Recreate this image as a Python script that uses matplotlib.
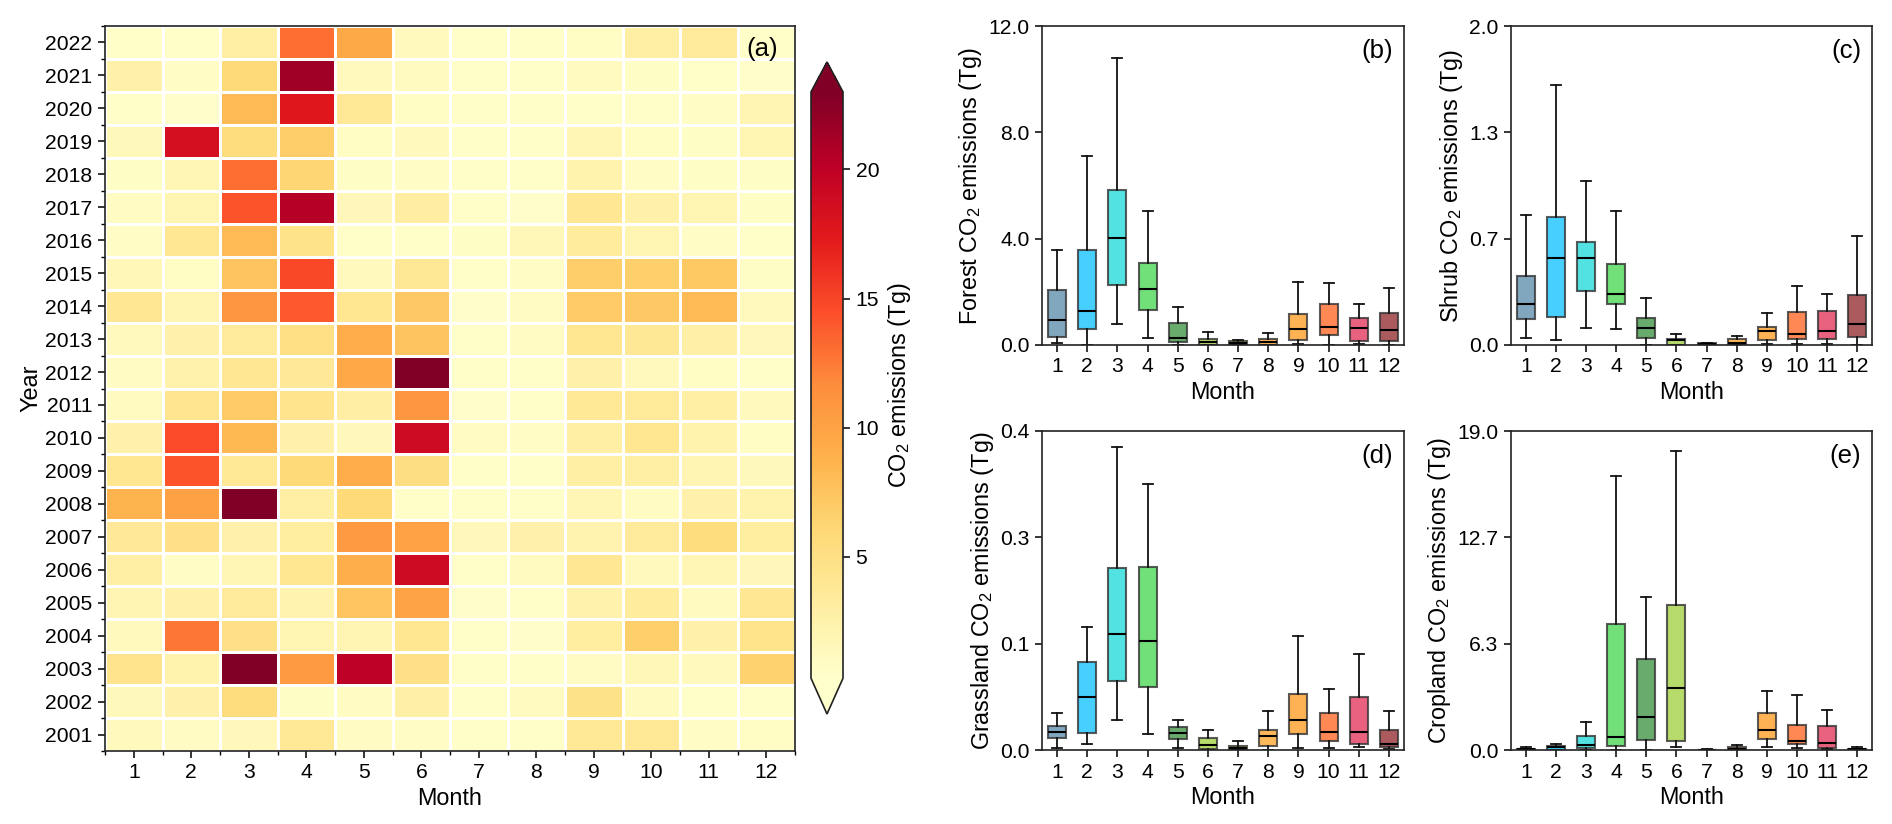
import matplotlib
matplotlib.use("Agg")
import matplotlib.pyplot as plt
import numpy as np
from matplotlib.colors import Normalize

plt.rcParams['font.family'] = ['Liberation Sans', 'DejaVu Sans']
plt.rcParams['mathtext.default'] = 'regular'
plt.rcParams['font.size'] = 16.8
plt.rcParams['xtick.labelsize'] = 15.2
plt.rcParams['ytick.labelsize'] = 15.2
plt.rcParams['axes.linewidth'] = 1.2
plt.rcParams['axes.edgecolor'] = '#222222'

W, H = 1892, 824

months = list(range(1, 13))
years = list(range(2001, 2023))

# rows run from 2022 down to 2001, columns are months 1-12
heat_rows = [
    [0.6, 0.5, 2.8, 13.0, 9.5, 1.2, 0.5, 0.6, 0.9, 2.8, 3.5, 0.6],
    [2.6, 0.8, 5.8, 21.5, 1.3, 1.1, 0.5, 0.6, 1.1, 0.7, 0.5, 0.4],
    [0.6, 0.4, 8.2, 17.6, 3.8, 0.9, 0.5, 0.5, 0.6, 0.6, 0.8, 2.0],
    [1.4, 18.5, 5.5, 6.8, 0.9, 1.2, 0.6, 0.5, 1.8, 0.9, 0.7, 1.9],
    [0.7, 1.8, 13.0, 6.2, 0.7, 0.8, 0.6, 0.6, 2.3, 0.8, 0.7, 0.7],
    [1.0, 1.9, 14.3, 20.4, 1.6, 3.1, 0.6, 0.4, 4.0, 2.6, 1.9, 0.7],
    [0.8, 4.0, 8.2, 4.6, 0.6, 0.6, 0.7, 1.7, 3.4, 1.9, 0.8, 0.6],
    [1.7, 0.9, 7.5, 14.8, 1.3, 3.9, 0.6, 0.8, 6.8, 6.6, 7.3, 0.7],
    [4.0, 2.0, 11.0, 14.0, 4.2, 7.2, 0.4, 1.0, 7.0, 7.2, 8.2, 1.2],
    [1.3, 2.5, 3.5, 5.0, 9.2, 7.5, 0.5, 1.0, 4.2, 3.9, 2.7, 1.5],
    [1.0, 2.4, 4.0, 3.7, 9.6, 23.5, 0.5, 0.6, 2.6, 1.3, 0.9, 0.5],
    [1.1, 4.3, 7.0, 4.4, 3.0, 11.0, 0.4, 0.5, 3.8, 3.6, 2.9, 1.3],
    [2.5, 14.7, 8.3, 2.5, 1.5, 19.0, 1.0, 0.8, 2.8, 4.2, 2.3, 0.9],
    [4.2, 14.3, 3.8, 5.8, 9.2, 5.2, 0.5, 0.5, 2.9, 2.8, 2.0, 1.4],
    [8.7, 10.2, 24.0, 2.8, 5.8, 0.6, 0.6, 0.6, 1.8, 1.0, 2.5, 2.3],
    [3.7, 4.9, 2.5, 3.2, 10.6, 10.0, 1.5, 2.5, 2.2, 3.5, 5.4, 3.2],
    [2.8, 0.8, 1.8, 4.2, 9.0, 19.0, 0.5, 1.1, 4.1, 1.2, 1.8, 1.6],
    [2.0, 2.6, 3.5, 2.2, 7.4, 9.9, 0.4, 0.6, 2.4, 3.4, 1.1, 4.0],
    [1.3, 12.7, 4.9, 1.9, 2.0, 4.2, 0.5, 0.4, 3.2, 6.6, 2.6, 4.5],
    [4.4, 2.3, 24.0, 10.6, 20.0, 4.9, 0.6, 0.5, 1.0, 1.7, 1.2, 6.5],
    [1.4, 2.5, 5.5, 0.7, 1.0, 2.7, 0.6, 1.1, 4.8, 1.1, 0.5, 0.5],
    [1.2, 1.0, 1.5, 3.8, 1.0, 0.8, 0.5, 0.6, 3.8, 3.8, 0.8, 0.9],
]

forest_lo = [0.09, 0.0, 0.80, 0.25, 0.0, 0.0, 0.0, 0.0, 0.04, 0.01, 0.03, 0.0]
forest_q1 = [0.30, 0.59, 2.24, 1.32, 0.13, 0.01, 0.01, 0.01, 0.20, 0.36, 0.16, 0.15]
forest_med = [0.95, 1.27, 4.01, 2.12, 0.26, 0.10, 0.09, 0.11, 0.60, 0.69, 0.63, 0.55]
forest_q3 = [2.07, 3.57, 5.83, 3.07, 0.82, 0.21, 0.15, 0.24, 1.15, 1.54, 1.00, 1.20]
forest_hi = [3.59, 7.11, 10.78, 5.03, 1.44, 0.49, 0.19, 0.46, 2.38, 2.33, 1.55, 2.16]

shrub_lo = [0.046, 0.03, 0.104, 0.10, 0.0, 0.0, 0.0, 0.0, 0.006, 0.004, 0.006, 0.002]
shrub_q1 = [0.163, 0.173, 0.34, 0.26, 0.044, 0.002, 0.002, 0.002, 0.031, 0.038, 0.04, 0.05]
shrub_med = [0.255, 0.545, 0.545, 0.318, 0.107, 0.033, 0.008, 0.015, 0.086, 0.067, 0.09, 0.134]
shrub_q3 = [0.435, 0.80, 0.648, 0.508, 0.171, 0.04, 0.012, 0.04, 0.111, 0.205, 0.213, 0.316]
shrub_hi = [0.813, 1.63, 1.03, 0.842, 0.293, 0.069, 0.015, 0.056, 0.20, 0.372, 0.32, 0.681]

grass_lo = [0.0025, 0.007, 0.037, 0.02, 0.003, 0.0, 0.0, 0.0005, 0.002, 0.003, 0.004, 0.001]
grass_q1 = [0.0155, 0.021, 0.087, 0.079, 0.014, 0.001, 0.0005, 0.005, 0.02, 0.011, 0.007, 0.004]
grass_med = [0.0226, 0.067, 0.146, 0.137, 0.021, 0.006, 0.0025, 0.018, 0.038, 0.022, 0.022, 0.007]
grass_q3 = [0.03, 0.11, 0.228, 0.229, 0.029, 0.015, 0.005, 0.025, 0.07, 0.047, 0.067, 0.025]
grass_hi = [0.047, 0.154, 0.38, 0.334, 0.038, 0.025, 0.011, 0.049, 0.143, 0.077, 0.121, 0.049]

crop_lo = [0.0, 0.0, 0.02, 0.02, 0.02, 0.16, 0.0, 0.0, 0.18, 0.12, 0.08, 0.0]
crop_q1 = [0.02, 0.02, 0.12, 0.24, 0.58, 0.52, 0.0, 0.02, 0.67, 0.34, 0.14, 0.02]
crop_med = [0.04, 0.18, 0.30, 0.75, 1.99, 3.71, 0.02, 0.08, 1.17, 0.54, 0.42, 0.04]
crop_q3 = [0.08, 0.26, 0.81, 7.48, 5.44, 8.66, 0.02, 0.20, 2.20, 1.51, 1.45, 0.08]
crop_hi = [0.20, 0.34, 1.67, 16.34, 9.10, 17.80, 0.05, 0.32, 3.53, 3.26, 2.40, 0.16]

box_colors = ['#4F86A6', '#00BFFF', '#10D8D8', '#3CD444', '#2E8B33', '#9ACD32',
              '#F0D000', '#FF9F1C', '#FF9510', '#FF5A14', '#E0264F', '#8B1A1F']


def add_axes_px(left, right, top, bottom):
    return fig.add_axes([left / W, 1 - bottom / H, (right - left) / W, (bottom - top) / H])


def draw_boxes(ax, lo, q1, med, q3, hi, ymax, ylabels, ylabel, tag):
    stats = [dict(med=med[i], q1=q1[i], q3=q3[i], whislo=lo[i], whishi=hi[i], fliers=[])
             for i in range(len(months))]
    parts = ax.bxp(stats, positions=months, widths=0.6, capwidths=0.33, patch_artist=True,
                   showfliers=False,
                   boxprops=dict(edgecolor='#333333', linewidth=1.5),
                   medianprops=dict(color='black', linewidth=1.5),
                   whiskerprops=dict(color='#111111', linewidth=1.3),
                   capprops=dict(color='#111111', linewidth=1.3))
    for box, color in zip(parts['boxes'], box_colors):
        box.set_facecolor(matplotlib.colors.to_rgba(color, 0.72))
        box.set_edgecolor((0.2, 0.2, 0.2, 0.8))
    ax.set_xlim(0.5, 12.5)
    ax.set_ylim(0, ymax)
    ax.set_xticks(months)
    ax.set_xticklabels(months)
    ax.set_yticks(np.linspace(0, ymax, 4))
    ax.set_yticklabels(ylabels)
    ax.tick_params(length=5, width=1.1, pad=4)
    ax.set_xlabel('Month', labelpad=3)
    ax.set_ylabel(ylabel, labelpad=3)
    ax.text(0.97, 0.958, tag, transform=ax.transAxes, ha='right', va='top', fontsize=18.5)


fig = plt.figure(figsize=(W / 100, H / 100), dpi=100)

# (a) heatmap
ax_a = add_axes_px(105, 795, 26, 751)
norm = Normalize(vmin=0.3, vmax=23)
cmap = plt.get_cmap('YlOrRd').copy()
x_edges = np.arange(0.5, 13.5)
y_edges = np.arange(2000.5, 2023.5)
mesh = ax_a.pcolormesh(x_edges, y_edges, np.array(heat_rows)[::-1], cmap=cmap, norm=norm,
                       edgecolors='white', linewidth=0.8)
ax_a.set_xticks(months)
ax_a.set_xticklabels(months)
ax_a.set_yticks(years)
ax_a.set_yticklabels(years)
ax_a.set_yticks(y_edges, minor=True)
ax_a.set_xticks(x_edges, minor=True)
ax_a.tick_params(length=5, width=1.1, pad=4)
ax_a.tick_params(which='minor', length=3, width=1.0)
ax_a.set_xlabel('Month', labelpad=3)
ax_a.set_ylabel('Year', labelpad=2)
ax_a.text(0.975, 0.985, '(a)', transform=ax_a.transAxes, ha='right', va='top', fontsize=18.5)

# the axes holds the extension triangles as well, 62-714 px, body 92-678 px
cax = add_axes_px(811, 843, 62, 714)
cbar = fig.colorbar(mesh, cax=cax, extend='both', extendfrac=(0.061, 0.051), ticks=[5, 10, 15, 20])
cbar.ax.tick_params(length=5, width=1.1, pad=4)
cbar.set_label('CO$_2$ emissions (Tg)', labelpad=5)

# (b)-(e) box plots by land cover
ax_b = add_axes_px(1042, 1404, 26, 345)
draw_boxes(ax_b, forest_lo, forest_q1, forest_med, forest_q3, forest_hi, 12.0,
           ['0.0', '4.0', '8.0', '12.0'], 'Forest CO$_2$ emissions (Tg)', '(b)')
ax_c = add_axes_px(1511, 1872, 26, 345)
draw_boxes(ax_c, shrub_lo, shrub_q1, shrub_med, shrub_q3, shrub_hi, 2.0,
           ['0.0', '0.7', '1.3', '2.0'], 'Shrub CO$_2$ emissions (Tg)', '(c)')
ax_d = add_axes_px(1042, 1404, 431, 750)
draw_boxes(ax_d, grass_lo, grass_q1, grass_med, grass_q3, grass_hi, 0.4,
           ['0.0', '0.1', '0.3', '0.4'], 'Grassland CO$_2$ emissions (Tg)', '(d)')
ax_e = add_axes_px(1511, 1872, 431, 750)
draw_boxes(ax_e, crop_lo, crop_q1, crop_med, crop_q3, crop_hi, 19.0,
           ['0.0', '6.3', '12.7', '19.0'], 'Cropland CO$_2$ emissions (Tg)', '(e)')

fig.savefig('out.png', dpi=100)
